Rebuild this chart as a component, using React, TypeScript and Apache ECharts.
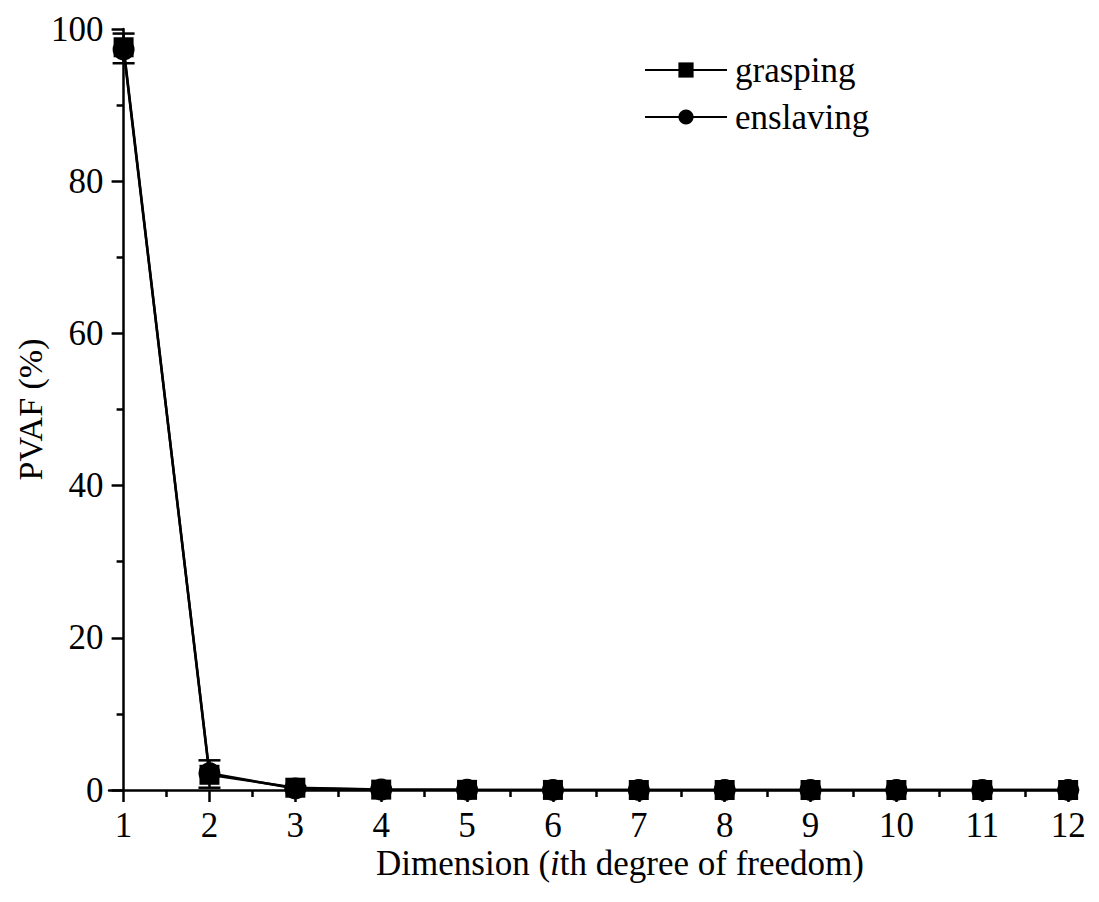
import React, { useEffect, useRef } from "react";
import * as echarts from "echarts";

const dims = [1, 2, 3, 4, 5, 6, 7, 8, 9, 10, 11, 12];
const grasping = [97.6, 2.0, 0.3, 0.05, 0.02, 0.01, 0, 0, 0, 0, 0, 0];
const enslaving = [97.3, 2.2, 0.2, 0.05, 0.02, 0.01, 0, 0, 0, 0, 0, 0];
const errLow = [95.5, 0.3, 0, 0, 0, 0, 0, 0, 0, 0, 0, 0];
const errHigh = [99.4, 3.9, 0.5, 0.1, 0.05, 0, 0, 0, 0, 0, 0, 0];
const minorX = [1.5, 2.5, 3.5, 4.5, 5.5, 6.5, 7.5, 8.5, 9.5, 10.5, 11.5];

const FONT = "Liberation Serif";

export default function App() {
  const ref = useRef<HTMLDivElement>(null);
  useEffect(() => {
    document.body.style.margin = "0";
    const chart = echarts.init(ref.current!, null, { renderer: "svg" });
    const gridLeft = 109;
    const gridRight = 24;
    const xMin = 0.83;
    const xMax = 12.08;
    const pxPerUnit = (1099 - gridLeft - gridRight) / (xMax - xMin);
    const yOffset = -(1 - xMin) * pxPerUnit;

    const errData = dims.map((d, i) => [d, errLow[i], errHigh[i]]);

    chart.setOption({
      animation: false,
      backgroundColor: "#fff",
      grid: { left: gridLeft, right: gridRight, top: 29, bottom: 112, outerBoundsMode: "none", containLabel: false },
      legend: {
        orient: "vertical",
        left: 639,
        top: 44,
        itemWidth: 82,
        itemHeight: 19,
        itemGap: 5,
        data: ["grasping", "enslaving"],
        textStyle: { fontFamily: FONT, fontSize: 35, color: "#000", lineHeight: 42, padding: [0, 0, 0, 3] },
      },
      xAxis: [
        {
          type: "value",
          min: xMin,
          max: xMax,
          name: "{n|Dimension (}{i|i}{n|th degree of freedom)}",
          nameLocation: "middle",
          nameGap: 56,
          nameMoveOverlap: false,
          nameTextStyle: {
            padding: [0, 0, 0, 56],
            rich: {
              n: { fontFamily: FONT, fontSize: 35, color: "#000" },
              i: { fontFamily: FONT, fontSize: 35, color: "#000", fontStyle: "italic" },
            },
          },
          axisLine: { show: true, onZero: false, lineStyle: { color: "#000", width: 2.5 } },
          axisTick: { show: true, customValues: dims, length: 12, lineStyle: { color: "#000", width: 2.5 } },
          axisLabel: {
            customValues: dims,
            fontFamily: FONT,
            fontSize: 35,
            color: "#000",
            margin: 18,
          },
          splitLine: { show: false },
        },
        {
          type: "value",
          min: xMin,
          max: xMax,
          position: "bottom",
          axisLine: { show: false },
          axisTick: { show: true, customValues: minorX, length: 7, lineStyle: { color: "#000", width: 2.5 } },
          axisLabel: { show: false },
          splitLine: { show: false },
        },
      ],
      yAxis: {
        type: "value",
        min: 0,
        max: 100,
        interval: 20,
        offset: yOffset,
        name: "PVAF (%)",
        nameLocation: "middle",
        nameGap: 76,
        nameMoveOverlap: false,
        nameTextStyle: { fontFamily: FONT, fontSize: 34, color: "#000" },
        axisLine: { show: true, lineStyle: { color: "#000", width: 2.5 } },
        axisTick: { show: true, length: 12, lineStyle: { color: "#000", width: 2.5 } },
        minorTick: { show: true, splitNumber: 2, length: 7, lineStyle: { color: "#000", width: 2.5 } },
        axisLabel: { fontFamily: FONT, fontSize: 35, color: "#000", margin: 20 },
        splitLine: { show: false },
      },
      series: [
        {
          type: "custom",
          name: "err",
          xAxisIndex: 0,
          data: errData,
          z: 1,
          renderItem: (params: any, api: any) => {
            const x = api.value(0);
            const lo = api.coord([x, api.value(1)]);
            const hi = api.coord([x, api.value(2)]);
            const w = 11;
            const style = { stroke: "#000", lineWidth: 2.5 };
            return {
              type: "group",
              children: [
                { type: "line", shape: { x1: lo[0], y1: lo[1], x2: hi[0], y2: hi[1] }, style },
                { type: "line", shape: { x1: hi[0] - w, y1: hi[1], x2: hi[0] + w, y2: hi[1] }, style },
                { type: "line", shape: { x1: lo[0] - w, y1: lo[1], x2: lo[0] + w, y2: lo[1] }, style },
              ],
            };
          },
        },
        {
          name: "grasping",
          type: "line",
          xAxisIndex: 0,
          data: dims.map((d, i) => [d, grasping[i]]),
          symbol: "rect",
          symbolSize: 20,
          lineStyle: { color: "#000", width: 2.5 },
          itemStyle: { color: "#000" },
          z: 3,
        },
        {
          name: "enslaving",
          type: "line",
          xAxisIndex: 0,
          data: dims.map((d, i) => [d, enslaving[i]]),
          symbol: "circle",
          symbolSize: 22,
          lineStyle: { color: "#000", width: 2.5 },
          itemStyle: { color: "#000" },
          z: 3,
        },
      ],
    });
    return () => chart.dispose();
  }, []);
  return <div ref={ref} style={{ width: 1099, height: 902 }} />;
}
